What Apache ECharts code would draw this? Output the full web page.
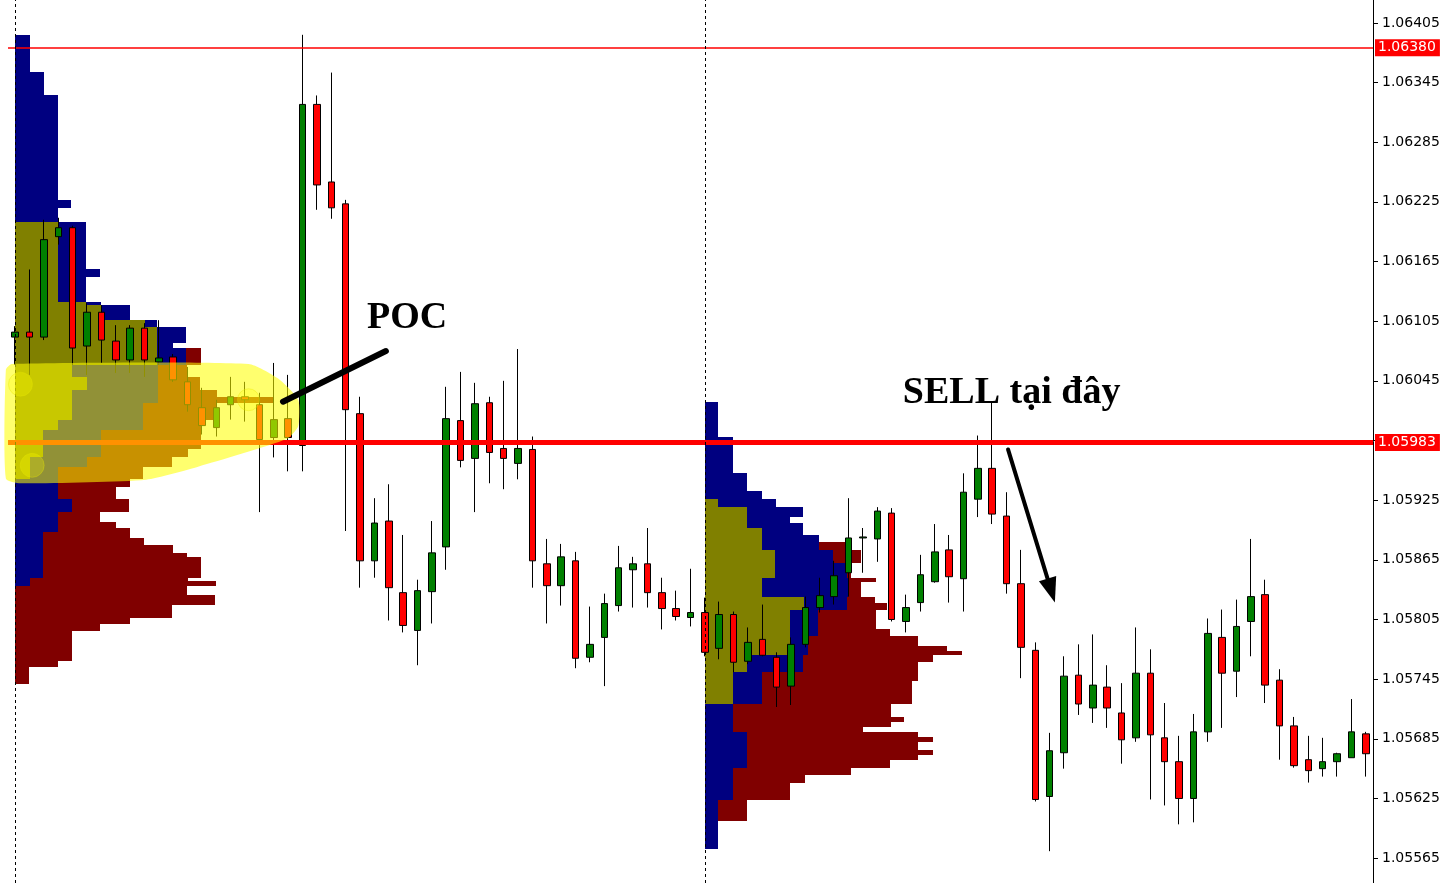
<!DOCTYPE html>
<html>
<head>
<meta charset="utf-8">
<title>EURUSD volume profile</title>
<script src="https://cdn.jsdelivr.net/npm/echarts@6/dist/echarts.min.js"></script>
<style>
  html, body { margin: 0; padding: 0; background: #fff; }
  #chart { width: 1444px; height: 883px; }
</style>
</head>
<body>
<div id="chart"></div>
<script>
// candles, oldest first (one per bar)
const opens = [
  1.06089, 1.06094, 1.06089, 1.06190, 1.06199, 1.06080, 1.06114, 1.06085, 1.06066, 1.06098,
  1.06064, 1.06069, 1.06044, 1.06018, 1.05998, 1.06021, 1.06029, 1.06021, 1.05988, 1.06007,
  1.05980, 1.06323, 1.06245, 1.06223, 1.06012, 1.05864, 1.05904, 1.05832, 1.05794, 1.05833,
  1.05878, 1.06005, 1.05967, 1.06023, 1.05977, 1.05962, 1.05976, 1.05861, 1.05839, 1.05864,
  1.05767, 1.05787, 1.05819, 1.05855, 1.05861, 1.05832, 1.05816, 1.05807, 1.05812, 1.05776,
  1.05810, 1.05763, 1.05785, 1.05767, 1.05738, 1.05780, 1.05817, 1.05828, 1.05852, 1.05887,
  1.05886, 1.05912, 1.05803, 1.05822, 1.05843, 1.05875, 1.05846, 1.05926, 1.05957, 1.05909,
  1.05841, 1.05774, 1.05627, 1.05671, 1.05749, 1.05716, 1.05737, 1.05711, 1.05686, 1.05751,
  1.05686, 1.05662, 1.05625, 1.05692, 1.05787, 1.05753, 1.05803, 1.05830, 1.05744, 1.05698,
  1.05664, 1.05655, 1.05662, 1.05666, 1.05690
];
const closes = [
  1.06094, 1.06089, 1.06187, 1.06199, 1.06078, 1.06114, 1.06086, 1.06066, 1.06098, 1.06066,
  1.06068, 1.06046, 1.06021, 1.06000, 1.06018, 1.06029, 1.06026, 1.05986, 1.06006, 1.05988,
  1.06323, 1.06242, 1.06219, 1.06016, 1.05864, 1.05902, 1.05837, 1.05799, 1.05834, 1.05872,
  1.06007, 1.05965, 1.06022, 1.05973, 1.05967, 1.05977, 1.05864, 1.05839, 1.05868, 1.05766,
  1.05780, 1.05821, 1.05857, 1.05861, 1.05832, 1.05816, 1.05808, 1.05812, 1.05772, 1.05810,
  1.05762, 1.05782, 1.05769, 1.05737, 1.05780, 1.05817, 1.05829, 1.05849, 1.05887, 1.05888,
  1.05914, 1.05805, 1.05817, 1.05850, 1.05873, 1.05848, 1.05933, 1.05957, 1.05911, 1.05841,
  1.05777, 1.05624, 1.05673, 1.05748, 1.05720, 1.05739, 1.05716, 1.05684, 1.05751, 1.05689,
  1.05662, 1.05625, 1.05692, 1.05791, 1.05751, 1.05798, 1.05828, 1.05739, 1.05698, 1.05658,
  1.05653, 1.05662, 1.05670, 1.05692, 1.05670
];
const lows = [
  1.06061, 1.06051, 1.06086, 1.06182, 1.06061, 1.06051, 1.06063, 1.06053, 1.06053, 1.06049,
  1.06061, 1.06044, 1.06014, 1.05991, 1.05989, 1.06006, 1.06004, 1.05913, 1.05968, 1.05954,
  1.05954, 1.06217, 1.06208, 1.05894, 1.05837, 1.05847, 1.05804, 1.05792, 1.05759, 1.05801,
  1.05855, 1.05958, 1.05913, 1.05942, 1.05936, 1.05946, 1.05837, 1.05801, 1.05819, 1.05756,
  1.05762, 1.05738, 1.05813, 1.05817, 1.05817, 1.05795, 1.05804, 1.05798, 1.05768, 1.05765,
  1.05752, 1.05760, 1.05768, 1.05717, 1.05719, 1.05777, 1.05812, 1.05820, 1.05828, 1.05852,
  1.05863, 1.05803, 1.05792, 1.05813, 1.05842, 1.05822, 1.05813, 1.05908, 1.05901, 1.05831,
  1.05746, 1.05622, 1.05572, 1.05655, 1.05709, 1.05701, 1.05696, 1.05660, 1.05682, 1.05624,
  1.05618, 1.05599, 1.05601, 1.05682, 1.05696, 1.05727, 1.05768, 1.05721, 1.05664, 1.05656,
  1.05641, 1.05647, 1.05647, 1.05666, 1.05647
];
const highs = [
  1.06100, 1.06157, 1.06207, 1.06209, 1.06201, 1.06123, 1.06121, 1.06101, 1.06101, 1.06103,
  1.06106, 1.06072, 1.06059, 1.06038, 1.06026, 1.06049, 1.06044, 1.06033, 1.06063, 1.06051,
  1.06393, 1.06332, 1.06355, 1.06227, 1.06029, 1.05927, 1.05941, 1.05890, 1.05845, 1.05904,
  1.06039, 1.06054, 1.06043, 1.06029, 1.06045, 1.06077, 1.05989, 1.05886, 1.05881, 1.05873,
  1.05818, 1.05831, 1.05879, 1.05868, 1.05897, 1.05847, 1.05834, 1.05856, 1.05827, 1.05823,
  1.05813, 1.05797, 1.05820, 1.05772, 1.05787, 1.05828, 1.05847, 1.05864, 1.05927, 1.05897,
  1.05918, 1.05917, 1.05830, 1.05870, 1.05901, 1.05890, 1.05952, 1.05990, 1.06023, 1.05933,
  1.05875, 1.05782, 1.05691, 1.05768, 1.05780, 1.05790, 1.05759, 1.05741, 1.05797, 1.05775,
  1.05721, 1.05688, 1.05710, 1.05806, 1.05815, 1.05825, 1.05886, 1.05845, 1.05755, 1.05707,
  1.05688, 1.05686, 1.05671, 1.05725, 1.05692
];

// price axis
const yMin = 1.0554;
const yMax = 1.06428;
const priceTicks = [1.05565, 1.05625, 1.05685, 1.05745, 1.05805, 1.05865, 1.05925, 1.05985,
  1.06045, 1.06105, 1.06165, 1.06225, 1.06285, 1.06345, 1.06405];
const priceLabels = priceTicks.filter(v => v !== 1.05985);

// horizontal levels
const highLevel = 1.0638;
const pocLevel = 1.05983;

// session starts (bar index) -> vertical separators and profile anchors
const sessionStarts = [0, 48];

// volume profile of the first session: row edges (prices) and stacked volume per row (bar widths)
const leftLevels = [
  1.06393, 1.06356, 1.06332, 1.06227, 1.06219, 1.06205, 1.06157, 1.06149, 1.06124, 1.06121,
  1.06106, 1.06099, 1.06083, 1.06078, 1.06061, 1.06049, 1.06036, 1.06029, 1.06023, 1.06006,
  1.05996, 1.05986, 1.05976, 1.05968, 1.05958, 1.05946, 1.05938, 1.05926, 1.05913, 1.05903,
  1.05897, 1.05893, 1.05887, 1.05880, 1.05872, 1.05868, 1.05847, 1.05844, 1.05839, 1.05830,
  1.05820, 1.05807, 1.05800, 1.05793, 1.05763, 1.05757, 1.05740
];
const leftOlive = [
  0, 0, 0, 0, 0, 3.0, 3.0, 3.0, 4.9, 6.0,
  9.0, 9.9, 9.9, 9.9, 3.95, 5.0, 3.95, 3.95, 3.95, 3.0,
  1.95, 1.95, 1.95, 1.0, 1.0, 0, 0, 0, 0, 0,
  0, 0, 0, 0, 0, 0, 0, 0, 0, 0,
  0, 0, 0, 0, 0, 0
];
const leftBlue = [
  1.0, 2.0, 3.0, 3.9, 3.0, 1.95, 2.9, 1.95, 1.05, 2.0,
  0.9, 2.0, 1.05, 2.0, 6.0, 4.95, 6.0, 6.0, 4.95, 5.9,
  4.0, 4.0, 4.0, 4.0, 2.0, 3.0, 3.0, 3.95, 3.0, 3.0,
  3.0, 1.95, 1.95, 1.95, 1.95, 1.95, 1.0, 1.0, 0, 0,
  0, 0, 0, 0, 0, 0
];
const leftRed = [
  0, 0, 0, 0, 0, 0, 0, 0, 0, 0,
  0, 0, 0, 1.05, 2.0, 2.9, 4.1, 8.0, 5.15, 4.0,
  7.0, 7.0, 6.05, 5.9, 5.9, 5.0, 4.0, 4.0, 2.9, 4.0,
  5.0, 6.05, 7.0, 9.0, 10.0, 11.0, 11.0, 12.95, 11.95, 13.9,
  10.9, 8.0, 5.9, 3.95, 3.0, 0.96
];

// volume profile of the second session
const rightLevels = [
  1.06024, 1.05989, 1.05952, 1.05934, 1.05926, 1.05918, 1.05908, 1.05902, 1.05897, 1.05890,
  1.05883, 1.05875, 1.05862, 1.05847, 1.05843, 1.05828, 1.05822, 1.05815, 1.05795, 1.05788,
  1.05778, 1.05773, 1.05769, 1.05762, 1.05752, 1.05743, 1.05720, 1.05707, 1.05702, 1.05697,
  1.05692, 1.05687, 1.05682, 1.05674, 1.05669, 1.05664, 1.05656, 1.05649, 1.05641, 1.05623,
  1.05602, 1.05574
];
const rightOlive = [
  0, 0, 0, 0, 0.93, 2.95, 2.95, 2.95, 3.95, 3.95,
  3.95, 4.9, 4.9, 3.95, 3.95, 6.9, 6.9, 5.95, 5.95, 5.95,
  5.95, 5.95, 2.95, 2.95, 1.95, 1.95, 0, 0, 0, 0,
  0, 0, 0, 0, 0, 0, 0, 0, 0, 0,
  0
];
const rightBlue = [
  0.93, 1.95, 2.95, 3.95, 4.0, 3.9, 3.0, 3.9, 2.9, 4.0,
  4.0, 4.0, 5.0, 6.0, 6.0, 3.0, 3.0, 1.95, 1.95, 1.25,
  1.25, 1.25, 3.9, 3.9, 2.0, 2.0, 1.95, 1.95, 1.95, 1.95,
  2.95, 2.95, 2.95, 2.95, 2.95, 2.95, 1.95, 1.95, 1.95, 0.93,
  0.93
];
const rightRed = [
  0, 0, 0, 0, 0, 0, 0, 0, 0, 0,
  2.2, 2.0, 0.3, 1.95, 0.9, 1.95, 2.8, 4.0, 5.0, 7.65,
  9.65, 10.7, 9.05, 8.0, 10.9, 10.5, 11.0, 11.9, 11.0, 9.05,
  11.9, 12.95, 11.9, 12.95, 11.9, 9.95, 8.2, 5.0, 4.0, 2.0,
  0
];

// annotation anchors as [bar index, price]
const pocTextAt = [24.48, 1.06108];
const pocPointer = [[18.64, 1.06024], [25.8, 1.06075]];
const sellTextAt = [61.78, 1.06033];
const sellArrow = [[69.1, 1.05976], [72.36, 1.05822]];
const highlightBox = [[-0.65, 1.06062], [19.7, 1.05942]];

const OLIVE = '#808000';
const NAVY = '#000080';
const MAROON = '#800000';

const chart = echarts.init(document.getElementById('chart'));

const barLabels = opens.map((_, i) => String(i));
const candleData = opens.map((o, i) => [o, closes[i], lows[i], highs[i]]);

function profileSeries(start, levels, olive, blue, red) {
  const rows = olive.map((o, k) => [start, levels[k], levels[k + 1], o, blue[k], red[k]]);
  return {
    type: 'custom',
    z: 1,
    silent: true,
    encode: { x: 0, y: [1, 2] },
    renderItem: function (params, api) {
      const top = api.coord([api.value(0), api.value(1)]);
      const bottom = api.coord([api.value(0), api.value(2)]);
      const unit = api.size([1, 0])[0];
      const y0 = Math.round(top[1]);
      const y1 = Math.round(bottom[1]);
      const parts = [[api.value(3), OLIVE], [api.value(4), NAVY], [api.value(5), MAROON]];
      const children = [];
      let x = top[0];
      parts.forEach(function (p) {
        if (p[0] > 0) {
          const xa = Math.round(x);
          const xb = Math.round(x + p[0] * unit);
          children.push({
            type: 'rect',
            shape: { x: xa, y: y0, width: xb - xa, height: y1 - y0 },
            style: { fill: p[1] }
          });
          x += p[0] * unit;
        }
      });
      return { type: 'group', children: children };
    },
    data: rows
  };
}

const levelLabel = {
  show: true,
  position: 'end',
  distance: 2,
  formatter: p => Number(p.value).toFixed(5),
  color: '#fff',
  backgroundColor: '#ff0000',
  padding: [2, 4, 1, 3],
  fontFamily: 'DejaVu Sans',
  fontSize: 14
};

chart.setOption({
  animation: false,
  backgroundColor: '#fff',
  grid: { left: 8, right: 71, top: 0, bottom: 0, outerBoundsMode: 'none' },
  xAxis: {
    type: 'category',
    data: barLabels,
    boundaryGap: true,
    axisLine: { show: false },
    axisTick: { show: false },
    axisLabel: { show: false },
    splitLine: { show: false }
  },
  yAxis: {
    type: 'value',
    position: 'right',
    min: yMin,
    max: yMax,
    axisLine: { show: true, lineStyle: { color: '#000', width: 1 } },
    axisTick: { show: true, customValues: priceTicks, length: 5, lineStyle: { color: '#000' } },
    axisLabel: {
      customValues: priceLabels,
      formatter: v => v.toFixed(5),
      color: '#000',
      fontFamily: 'DejaVu Sans',
      fontSize: 14,
      margin: 9
    },
    splitLine: { show: false }
  },
  series: [
    profileSeries(sessionStarts[0], leftLevels, leftOlive, leftBlue, leftRed),
    profileSeries(sessionStarts[1], rightLevels, rightOlive, rightBlue, rightRed),
    {
      type: 'candlestick',
      z: 3,
      barWidth: 7,
      data: candleData,
      itemStyle: {
        color: '#008000',
        color0: '#ff0000',
        borderColor: '#000',
        borderColor0: '#000',
        borderWidth: 1
      },
      markLine: {
        silent: true,
        precision: 5,
        symbol: ['none', 'none'],
        data: [
          { yAxis: highLevel, lineStyle: { color: '#ff0000', width: 1.5, type: 'solid', opacity: 1 }, label: levelLabel },
          { yAxis: pocLevel, lineStyle: { color: '#ff0000', width: 5, type: 'solid', opacity: 1 }, label: levelLabel }
        ].concat(sessionStarts.map(s => ({
          xAxis: s,
          lineStyle: { color: '#000', width: 1, type: [3, 3] },
          label: { show: false }
        })))
      }
    }
  ]
});

// annotations, placed from data coordinates
function px(pt) {
  const i0 = Math.floor(pt[0]);
  const a = chart.convertToPixel({ gridIndex: 0 }, [i0, pt[1]]);
  const b = chart.convertToPixel({ gridIndex: 0 }, [i0 + 1, pt[1]]);
  return [a[0] + (b[0] - a[0]) * (pt[0] - i0), a[1]];
}

const hTL = px(highlightBox[0]);
const hBR = px(highlightBox[1]);
const hw = hBR[0] - hTL[0];
const hh = hBR[1] - hTL[1];
const hShape = [[0, 0.05], [0.02, 0], [0.83, 0], [0.93, 0.12], [1, 0.3], [1, 0.52], [0.96, 0.63],
  [0.66, 0.86], [0.48, 0.97], [0.05, 1], [0, 0.96]].map(f => [hTL[0] + f[0] * hw, hTL[1] + f[1] * hh]);
const hBlobs = [[0.05, 0.17, 12], [0.09, 0.85, 12], [0.83, 0.3, 11]].map(b => ({
  type: 'circle',
  z: 101,
  shape: { cx: hTL[0] + b[0] * hw, cy: hTL[1] + b[1] * hh, r: b[2] },
  style: { fill: 'rgba(255,255,0,0.25)', stroke: 'rgba(230,230,0,0.35)', lineWidth: 1 }
}));

const p0 = px(pocPointer[0]);
const p1 = px(pocPointer[1]);
const a0 = px(sellArrow[0]);
const a1 = px(sellArrow[1]);
const dx = a1[0] - a0[0];
const dy = a1[1] - a0[1];
const len = Math.sqrt(dx * dx + dy * dy);
const ux = dx / len;
const uy = dy / len;
const headLen = 25;
const headHalf = 9;
const baseX = a1[0] - ux * headLen;
const baseY = a1[1] - uy * headLen;
const pocT = px(pocTextAt);
const sellT = px(sellTextAt);

chart.setOption({
  graphic: [
    {
      type: 'polygon',
      z: 100,
      silent: true,
      shape: { points: hShape, smooth: 0.2 },
      style: { fill: 'rgba(255,255,0,0.57)' }
    }
  ].concat(hBlobs).concat([
    {
      type: 'line',
      z: 110,
      shape: { x1: p0[0], y1: p0[1], x2: p1[0], y2: p1[1] },
      style: { stroke: '#000', lineWidth: 6, lineCap: 'round' }
    },
    {
      type: 'line',
      z: 110,
      shape: { x1: a0[0], y1: a0[1], x2: baseX, y2: baseY },
      style: { stroke: '#000', lineWidth: 4, lineCap: 'round' }
    },
    {
      type: 'polygon',
      z: 110,
      shape: {
        points: [
          [a1[0], a1[1]],
          [baseX - uy * headHalf, baseY + ux * headHalf],
          [baseX + uy * headHalf, baseY - ux * headHalf]
        ]
      },
      style: { fill: '#000' }
    },
    {
      type: 'text',
      z: 110,
      x: pocT[0],
      y: pocT[1],
      style: {
        text: 'POC',
        font: 'bold 38px "Liberation Serif", "DejaVu Serif", serif',
        fill: '#000',
        verticalAlign: 'middle',
        align: 'left'
      }
    },
    {
      type: 'text',
      z: 110,
      x: sellT[0],
      y: sellT[1],
      style: {
        text: 'SELL tại đây',
        font: 'bold 38px "Liberation Serif", "DejaVu Serif", serif',
        fill: '#000',
        verticalAlign: 'middle',
        align: 'left'
      }
    }
  ])
});
</script>
</body>
</html>
